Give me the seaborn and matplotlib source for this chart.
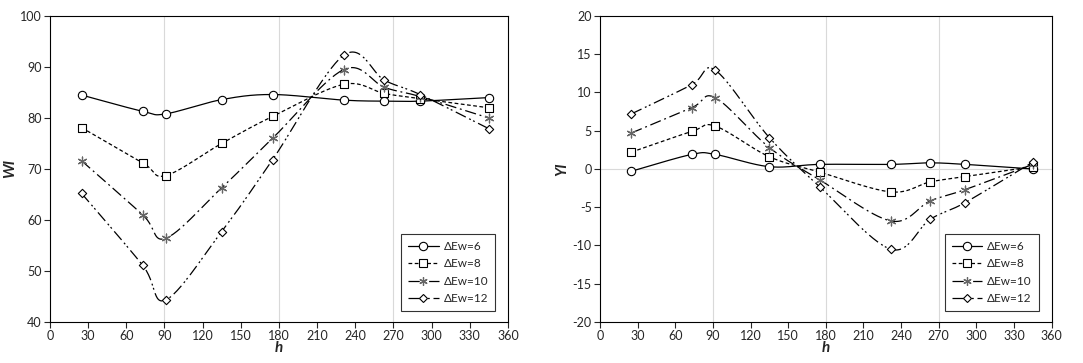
import numpy as np
import pandas as pd
import matplotlib
matplotlib.use("Agg")
import matplotlib.pyplot as plt
import seaborn as sns
from matplotlib.lines import Line2D
from matplotlib.ticker import MultipleLocator

# hue angle h for each sample
h_wi = [25, 73, 91, 135, 175, 231, 263, 291, 345]
h_yi = [25, 73, 92, 135, 175, 232, 263, 291, 345]

series = ["ΔEw=6", "ΔEw=8", "ΔEw=10", "ΔEw=12"]

wi_6 = [84.5, 81.3, 80.8, 83.6, 84.6, 83.5, 83.3, 83.3, 84.0]
wi_8 = [78.1, 71.2, 68.7, 75.0, 80.3, 86.6, 84.8, 83.8, 82.0]
wi_10 = [71.6, 61.0, 56.4, 66.3, 76.0, 89.5, 86.0, 84.2, 80.0]
wi_12 = [65.2, 51.1, 44.3, 57.7, 71.8, 92.3, 87.4, 84.6, 77.9]

yi_6 = [-0.3, 1.9, 1.9, 0.3, 0.6, 0.6, 0.8, 0.6, 0.0]
yi_8 = [2.2, 4.9, 5.6, 1.6, -0.4, -3.0, -1.7, -1.0, 0.3]
yi_10 = [4.7, 8.0, 9.3, 2.8, -1.4, -6.8, -4.2, -2.7, 0.6]
yi_12 = [7.2, 11.0, 12.9, 4.1, -2.3, -10.5, -6.6, -4.4, 0.9]

dash_map = {"ΔEw=6": "", "ΔEw=8": (3, 2), "ΔEw=10": (9, 3, 1.5, 3),
            "ΔEw=12": (9, 3, 1.5, 2, 1.5, 3)}
marker_map = {"ΔEw=6": "o", "ΔEw=8": "s", "ΔEw=10": (6, 2, 0), "ΔEw=12": "D"}
msize = {"ΔEw=6": 36, "ΔEw=8": 36, "ΔEw=10": 40, "ΔEw=12": 18}


def smooth(x, y, n=30):
    # excel-style smoothed line (bezier through the points)
    p = np.column_stack([x, y]).astype(float)
    pts = np.vstack([p[0], p, p[-1]])
    out = []
    t = np.linspace(0, 1, n)[:, None]
    for i in range(1, len(pts) - 2):
        p0, p1 = pts[i], pts[i + 1]
        c1 = p0 + (pts[i + 1] - pts[i - 1]) / 6
        c2 = p1 - (pts[i + 2] - pts[i]) / 6
        seg = ((1 - t) ** 3) * p0 + 3 * ((1 - t) ** 2) * t * c1 + 3 * (1 - t) * t ** 2 * c2 + t ** 3 * p1
        out.append(seg if i == 1 else seg[1:])
    out = np.vstack(out)
    return out[:, 0], out[:, 1]


def draw(ax, hx, data, ylim, ystep, ylabel, zero_line):
    curves = []
    pts = []
    for name, vals in zip(series, data):
        sx, sy = smooth(hx, vals)
        curves.append(pd.DataFrame({"h": sx, "v": sy, "s": name}))
        pts.append(pd.DataFrame({"h": hx, "v": vals, "s": name}))
    curves = pd.concat(curves)
    pts = pd.concat(pts)

    for g in [90, 180, 270]:
        ax.axvline(g, color="#d9d9d9", lw=0.8, zorder=0)
    if zero_line:
        ax.axhline(0, color="#d9d9d9", lw=0.8, zorder=0)

    sns.lineplot(data=curves, x="h", y="v", style="s", dashes=dash_map, color="black",
                 lw=0.9, sort=False, estimator=None, legend=False, ax=ax)
    for name in series:
        d = pts[pts["s"] == name]
        m = marker_map[name]
        if name == "ΔEw=10":
            sns.scatterplot(data=d, x="h", y="v", marker=m, s=msize[name], color="#666666",
                            linewidth=0.9, ax=ax, zorder=5, legend=False)
        else:
            sns.scatterplot(data=d, x="h", y="v", marker=m, s=msize[name], facecolor="white",
                            edgecolor="black", linewidth=0.8, ax=ax, zorder=5, legend=False)

    ax.set_xlim(0, 360)
    ax.set_ylim(*ylim)
    ax.xaxis.set_major_locator(MultipleLocator(30))
    ax.yaxis.set_major_locator(MultipleLocator(ystep))
    ax.tick_params(direction="out", length=4, width=0.8, labelsize=9, pad=2)
    for sp in ax.spines.values():
        sp.set_visible(True)
        sp.set_color("black")
        sp.set_linewidth(0.8)
    ax.set_xlabel("h", fontsize=11, fontweight="bold", fontstyle="italic", labelpad=-1)
    ax.set_ylabel(ylabel, fontsize=11, fontweight="bold", fontstyle="italic", labelpad=2)

    handles = []
    for name in series:
        if name == "ΔEw=10":
            hd = Line2D([], [], color="black", lw=0.9, dashes=dash_map[name], marker=marker_map[name],
                        markersize=6, markeredgecolor="#666666", markeredgewidth=0.9)
        else:
            hd = Line2D([], [], color="black", lw=0.9, marker=marker_map[name],
                        markersize=6 if name != "ΔEw=12" else 4, markerfacecolor="white",
                        markeredgecolor="black", markeredgewidth=0.8)
            if dash_map[name]:
                hd.set_dashes(dash_map[name])
        handles.append(hd)
    leg = ax.legend(handles, series, loc="lower right", bbox_to_anchor=(0.985, 0.015), fontsize=8.5,
                    frameon=True, fancybox=False, edgecolor="black", handlelength=2.6,
                    borderpad=0.6, labelspacing=0.55, handletextpad=0.4)
    leg.get_frame().set_linewidth(0.8)


sns.set_style("ticks")
plt.rcParams["font.family"] = ["Lato", "DejaVu Sans"]
plt.rcParams["axes.unicode_minus"] = False

fig = plt.figure(figsize=(10.83, 3.63), dpi=100)
ax1 = fig.add_axes([0.046, 0.113, 0.423, 0.843])
ax2 = fig.add_axes([0.554, 0.113, 0.417, 0.843])

draw(ax1, h_wi, [wi_6, wi_8, wi_10, wi_12], (40, 100), 10, "WI", False)
draw(ax2, h_yi, [yi_6, yi_8, yi_10, yi_12], (-20, 20), 5, "YI", True)

fig.savefig("out.png", dpi=100)
